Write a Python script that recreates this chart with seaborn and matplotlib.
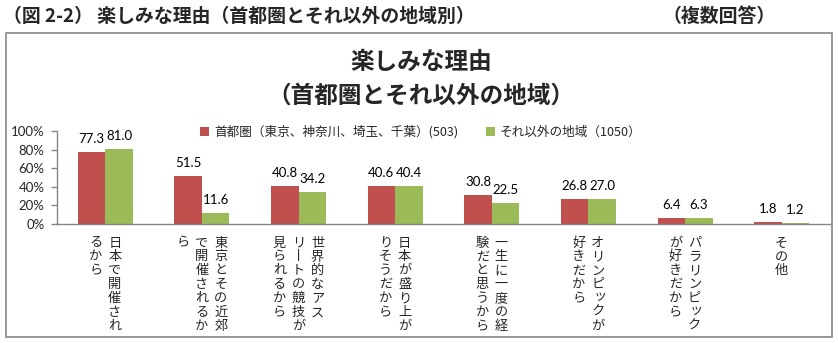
import matplotlib
matplotlib.use("Agg")
import matplotlib.pyplot as plt
from matplotlib.patches import Rectangle
from matplotlib.font_manager import FontProperties
import seaborn as sns
import pandas as pd

# ---- data ----
categories = [
    "日本で開催され\nるから",
    "東京とその近郊\nで開催されるか\nら",
    "世界的なアス\nリートの競技が\n見られるから",
    "日本が盛り上が\nりそうだから",
    "一生に一度の経\n験だと思うから",
    "オリンピックが\n好きだから",
    "パラリンピック\nが好きだから",
    "その他",
]
series_names = ["首都圏（東京、神奈川、埼玉、千葉）(503)", "それ以外の地域（1050）"]
capital_values = [77.3, 51.5, 40.8, 40.6, 30.8, 26.8, 6.4, 1.8]
other_values = [81.0, 11.6, 34.2, 40.4, 22.5, 27.0, 6.3, 1.2]
y_ticks = [0, 20, 40, 60, 80, 100]
y_tick_labels = [f"{v}%" for v in y_ticks]

outer_title = "（図 2-2） 楽しみな理由（首都圏とそれ以外の地域別）"
outer_note = "（複数回答）"
chart_title_1 = "楽しみな理由"
chart_title_2 = "（首都圏とそれ以外の地域）"

colors = ["#C0504D", "#9BBB59"]
axis_gray = "#868686"

df = pd.DataFrame({
    "理由": categories * 2,
    "地域": [series_names[0]] * len(categories) + [series_names[1]] * len(categories),
    "割合": capital_values + other_values,
})

sns.set_style("white")
plt.rcParams["font.family"] = ["Lato", "Noto Sans CJK JP", "DejaVu Sans"]
CJK = ["Noto Sans CJK JP", "DejaVu Sans"]

W, H = 838, 343
fig = plt.figure(figsize=(W / 100, H / 100), dpi=100)
fig.patch.set_facecolor("white")

ax_left, ax_right, ax_top, ax_bottom = 57, 830, 131, 224
ax = fig.add_axes([ax_left / W, 1 - ax_bottom / H, (ax_right - ax_left) / W, (ax_bottom - ax_top) / H])
ax.set_facecolor("none")

sns.barplot(data=df, x="理由", y="割合", hue="地域", hue_order=series_names,
            order=categories, palette=colors, saturation=1, width=0.57,
            linewidth=0, ax=ax)

ax.set_xlim(-0.5, len(categories) - 0.5)
ax.set_ylim(0, 100)
ax.set_yticks(y_ticks)
ax.set_yticklabels(y_tick_labels, fontsize=9.5, family=["Lato"])
ax.set_xticks(range(len(categories)))
ax.set_xticklabels([""] * len(categories))
ax.tick_params(axis="x", length=0)
ax.tick_params(axis="y", length=4, width=1, color=axis_gray, pad=5, direction="out", left=True)
ax.set_xlabel("")
ax.set_ylabel("")
for s in ["top", "right"]:
    ax.spines[s].set_visible(False)
for s in ["left", "bottom"]:
    ax.spines[s].set_color(axis_gray)
    ax.spines[s].set_linewidth(1)

for cont in ax.containers:
    ax.bar_label(cont, fmt="%.1f", padding=5, fontsize=9.5, family=["Lato"], color="#000000")

# legend
handles, labels = ax.get_legend_handles_labels()
if ax.get_legend() is not None:
    ax.get_legend().remove()
leg = fig.legend(handles, labels, ncol=2, frameon=False, loc="center left",
                 bbox_to_anchor=(200 / W, 1 - 132 / H), borderpad=0, borderaxespad=0,
                 handlelength=0.75, handleheight=0.75, handletextpad=0.35,
                 columnspacing=2.2, prop=FontProperties(family="Noto Sans CJK JP", size=9.1))

# vertical (tategaki) category labels
px = 72 / 100  # pixels -> points
pitch = 13.9
col_gap = 19
first_baseline = 22.5
small_kana = set("ッャュョァィゥェォっゃゅょぁぃぅぇぉ")
xform = ax.get_xaxis_transform()
for i, cat in enumerate(categories):
    cols = cat.split("\n")
    n = len(cols)
    for j, col in enumerate(cols):
        dx = ((n - 1) / 2 - j) * col_gap
        for k, ch in enumerate(col):
            disp = "丨" if ch == "ー" else ch
            ddx, ddy = dx, first_baseline + k * pitch
            if ch in small_kana:
                ddx += 2
                ddy -= 2
            ax.annotate(disp, xy=(i, 0), xycoords=xform,
                        xytext=(ddx * px, -ddy * px), textcoords="offset points",
                        ha="center", va="baseline", fontsize=9.5, family=CJK,
                        annotation_clip=False)

# titles
fig.text(421 / W, 1 - 62 / H, chart_title_1, ha="center", va="center",
         fontsize=17, fontweight="bold", family=CJK)
fig.text(421 / W, 1 - 96 / H, chart_title_2, ha="center", va="center",
         fontsize=17, fontweight="bold", family=CJK)
fig.text(3 / W, 1 - 16.5 / H, outer_title, ha="left", va="center",
         fontsize=13.6, fontweight="bold", family=CJK)
fig.text(662 / W, 1 - 16.5 / H, outer_note, ha="left", va="center",
         fontsize=13.6, fontweight="bold", family=CJK)

# chart border
fig.add_artist(Rectangle((6 / W, 1 - 337 / H), (832 - 6) / W, (337 - 33) / H,
                         transform=fig.transFigure, fill=False,
                         edgecolor=axis_gray, linewidth=1.2))

fig.savefig("out.png", dpi=100, facecolor="white")
